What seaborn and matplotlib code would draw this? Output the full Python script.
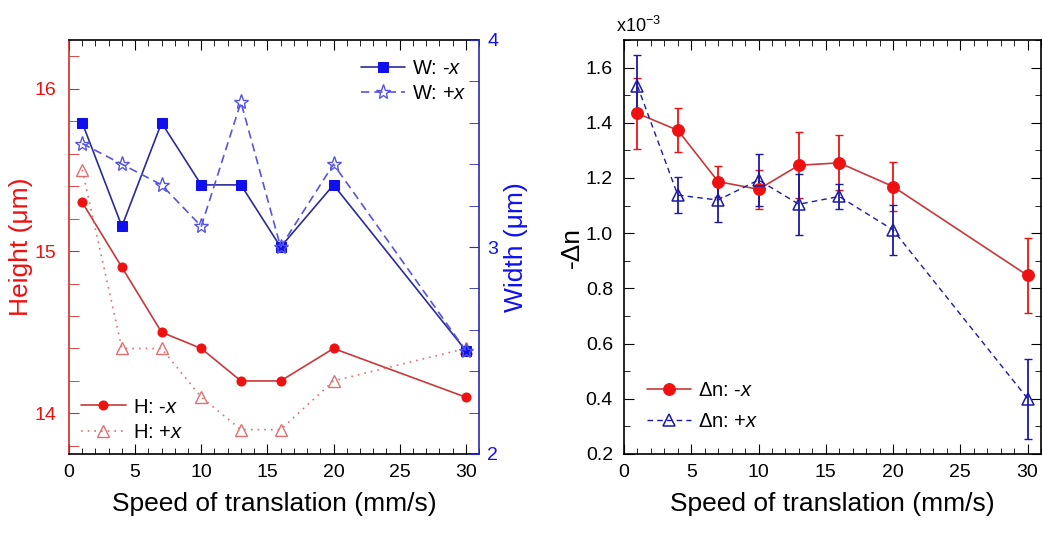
import numpy as np
import pandas as pd
import matplotlib
matplotlib.use("Agg")
import matplotlib.pyplot as plt
from matplotlib.ticker import MultipleLocator
import seaborn as sns

# ---- data ----
speed = [1, 4, 7, 10, 13, 16, 20, 30]
height_minus = [15.3, 14.9, 14.5, 14.4, 14.2, 14.2, 14.4, 14.1]
height_plus = [15.5, 14.4, 14.4, 14.1, 13.9, 13.9, 14.2, 14.4]
width_minus = [3.6, 3.1, 3.6, 3.3, 3.3, 3.0, 3.3, 2.5]
width_plus = [3.5, 3.4, 3.3, 3.1, 3.7, 3.0, 3.4, 2.5]
dn_minus = [1.434, 1.373, 1.187, 1.159, 1.246, 1.255, 1.169, 0.847]
dn_minus_err = [0.13, 0.08, 0.055, 0.07, 0.12, 0.10, 0.09, 0.135]
dn_plus = [1.534, 1.138, 1.120, 1.193, 1.105, 1.133, 1.012, 0.401]
dn_plus_err = [0.11, 0.065, 0.08, 0.095, 0.11, 0.045, 0.09, 0.145]

sns.set_style("ticks")
plt.rcParams["font.family"] = ["Liberation Sans", "DejaVu Sans"]
plt.rcParams["mathtext.fontset"] = "custom"
plt.rcParams["mathtext.it"] = "Liberation Sans:italic"
plt.rcParams["mathtext.rm"] = "Liberation Sans"
plt.rcParams["text.color"] = "black"
plt.rcParams["axes.labelcolor"] = "black"
plt.rcParams["xtick.color"] = "black"
plt.rcParams["ytick.color"] = "black"
plt.rcParams["axes.edgecolor"] = "black"

RED = "#ee1111"
RED_AX = "#d42a2a"
RED_LINE = "#c8383a"
RED_LIGHT = "#e07070"
BLUE = "#1010ee"
BLUE_AX = "#2a2ab8"
BLUE_LINE = "#2b2b99"
BLUE_LIGHT = "#5555e0"
NAVY = "#1a1aa8"

TICK = 14
LAB = 19
LEG = 14.5

W, H = 1043, 546
fig = plt.figure(figsize=(W / 100, H / 100), dpi=100)
ax1 = fig.add_axes([69 / W, 92 / H, 410 / W, 414 / H])
ax3 = fig.add_axes([624 / W, 92 / H, 417 / W, 414 / H])

df = pd.DataFrame(dict(speed=speed, hm=height_minus, hp=height_plus,
                       wm=width_minus, wp=width_plus,
                       dm=dn_minus, dp=dn_plus))

leg_kw = dict(frameon=False, fontsize=LEG, handlelength=2.2,
              handletextpad=0.35, borderaxespad=0.0, borderpad=0.0)

# ---- left panel: height ----
sns.lineplot(data=df, x="speed", y="hm", ax=ax1, color=RED_LINE, lw=1.2,
             marker="o", markersize=6.5, markerfacecolor=RED,
             markeredgecolor=RED, label=r"H: -$\it{x}$")
sns.lineplot(data=df, x="speed", y="hp", ax=ax1, color=RED_LIGHT, lw=1.2,
             linestyle=(0, (1, 3)), marker="^", markersize=8,
             markerfacecolor="none", markeredgecolor=RED_LIGHT,
             markeredgewidth=1.0, label=r"H: +$\it{x}$")
ax1.set_xlim(0, 31)
ax1.set_ylim(13.75, 16.3)
ax1.xaxis.set_major_locator(MultipleLocator(5))
ax1.xaxis.set_minor_locator(MultipleLocator(1))
ax1.yaxis.set_major_locator(MultipleLocator(1))
ax1.yaxis.set_minor_locator(MultipleLocator(0.2))
ax1.set_xlabel("Speed of translation (mm/s)", fontsize=LAB, labelpad=8)
ax1.set_ylabel("Height (μm)", fontsize=LAB, color=RED, labelpad=1)
ax1.tick_params(axis="x", which="both", direction="in", top=True,
                labelsize=TICK, colors="black", pad=7)
ax1.tick_params(axis="x", which="major", length=7)
ax1.tick_params(axis="x", which="minor", length=4)
ax1.tick_params(axis="y", which="both", direction="in", colors=RED_AX,
                labelcolor=RED, labelsize=TICK, length=7, pad=9)
ax1.spines["left"].set_color(RED_AX)
ax1.spines["right"].set_visible(False)
for s in ax1.spines.values():
    s.set_linewidth(1.2)
ax1.legend(loc="lower left", bbox_to_anchor=(0.03, 0.03),
           labelspacing=0.3, **leg_kw)

# ---- left panel: width (twin) ----
ax2 = ax1.twinx()
sns.lineplot(data=df, x="speed", y="wm", ax=ax2, color=BLUE_LINE, lw=1.2,
             marker="s", markersize=6.5, markerfacecolor=BLUE,
             markeredgecolor=BLUE, label=r"W: -$\it{x}$")
sns.lineplot(data=df, x="speed", y="wp", ax=ax2, color=BLUE_LIGHT, lw=1.2,
             linestyle=(0, (5, 3)), marker="*", markersize=11,
             markerfacecolor="none", markeredgecolor=BLUE_LIGHT,
             markeredgewidth=1.0, label=r"W: +$\it{x}$")
ax2.set_ylim(2, 4)
ax2.yaxis.set_major_locator(MultipleLocator(1))
ax2.yaxis.set_minor_locator(MultipleLocator(0.2))
ax2.set_ylabel("Width (μm)", fontsize=LAB, color=BLUE, labelpad=4)
ax2.tick_params(axis="y", which="both", direction="in", colors=BLUE_AX,
                labelcolor=BLUE, labelsize=TICK, length=7, pad=6)
for k in ["left", "top", "bottom"]:
    ax2.spines[k].set_visible(False)
ax2.spines["right"].set_color(BLUE_AX)
ax2.spines["right"].set_linewidth(1.2)
ax2.legend(loc="upper right", bbox_to_anchor=(0.97, 0.955),
           labelspacing=0.3, **leg_kw)

# ---- right panel: delta n ----
ax3.errorbar(speed, dn_minus, yerr=dn_minus_err, fmt="none", ecolor=RED,
             elinewidth=1.3, capsize=3, capthick=1.0, zorder=2)
ax3.errorbar(speed, dn_plus, yerr=dn_plus_err, fmt="none", ecolor=NAVY,
             elinewidth=1.3, capsize=3, capthick=1.0, zorder=2)
sns.lineplot(data=df, x="speed", y="dm", ax=ax3, color=RED_LINE, lw=1.2,
             marker="o", markersize=8.5, markerfacecolor=RED,
             markeredgecolor=RED, label=r"Δn: -$\it{x}$", zorder=3)
sns.lineplot(data=df, x="speed", y="dp", ax=ax3, color=NAVY, lw=1.0,
             linestyle=(0, (4, 3)), marker="^", markersize=9,
             markerfacecolor="none", markeredgecolor=NAVY,
             markeredgewidth=1.1, label=r"Δn: +$\it{x}$", zorder=3)
ax3.set_xlim(0, 31)
ax3.set_ylim(0.2, 1.7)
ax3.xaxis.set_major_locator(MultipleLocator(5))
ax3.xaxis.set_minor_locator(MultipleLocator(1))
ax3.yaxis.set_major_locator(MultipleLocator(0.2))
ax3.yaxis.set_minor_locator(MultipleLocator(0.1))
ax3.yaxis.set_major_formatter(plt.FormatStrFormatter("%.1f"))
ax3.set_xlabel("Speed of translation (mm/s)", fontsize=LAB, labelpad=8)
ax3.set_ylabel("-Δn", fontsize=LAB, labelpad=1)
ax3.tick_params(which="both", direction="in", top=True, right=True,
                labelsize=TICK, colors="black")
ax3.tick_params(axis="x", which="both", pad=7)
ax3.tick_params(axis="y", which="both", pad=8)
ax3.tick_params(which="major", length=7)
ax3.tick_params(which="minor", length=4)
for s in ax3.spines.values():
    s.set_linewidth(1.2)
ax3.text(-0.02, 1.01, r"x10$^{-3}$", transform=ax3.transAxes, fontsize=13,
         ha="left", va="bottom")
ax3.legend(loc="lower left", bbox_to_anchor=(0.055, 0.055),
           labelspacing=0.6, **leg_kw)

fig.savefig("out.png", dpi=100)
